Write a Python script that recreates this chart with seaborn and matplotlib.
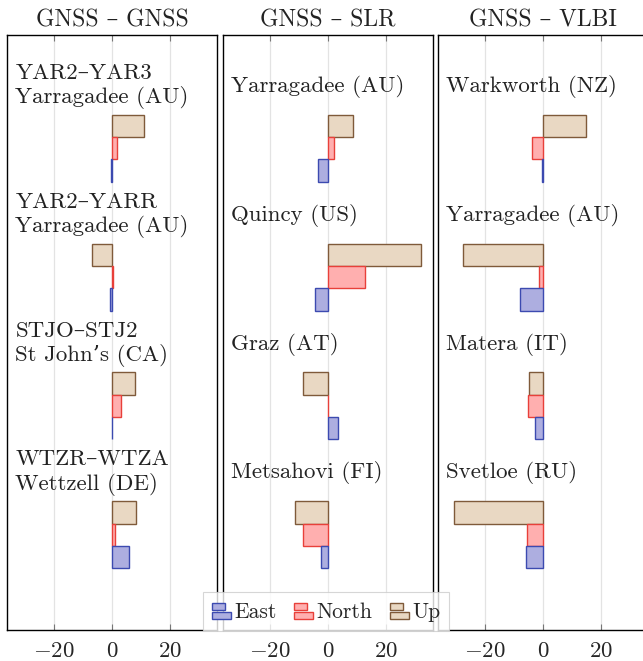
import numpy as np
import pandas as pd
import matplotlib
matplotlib.use("Agg")
import matplotlib.pyplot as plt
from matplotlib.patches import Rectangle
from matplotlib.legend_handler import HandlerBase
import seaborn as sns

# Data (mm)
panel_titles = ['GNSS – GNSS', 'GNSS – SLR', 'GNSS – VLBI']

gnss_labels = ['YAR2–YAR3\nYarragadee (AU)', 'YAR2–YARR\nYarragadee (AU)',
               'STJO–STJ2\nSt John’s (CA)', 'WTZR–WTZA\nWettzell (DE)']
gnss_east = [-0.5, -0.7, 0.1, 5.9]
gnss_north = [1.8, 0.5, 3.0, 0.9]
gnss_up = [11.0, -6.8, 7.8, 8.3]

slr_labels = ['Yarragadee (AU)', 'Quincy (US)', 'Graz (AT)', 'Metsahovi (FI)']
slr_east = [-3.4, -4.5, 3.4, -2.4]
slr_north = [2.1, 12.7, 0.1, -8.6]
slr_up = [8.7, 32.0, -8.7, -11.2]

vlbi_labels = ['Warkworth (NZ)', 'Yarragadee (AU)', 'Matera (IT)', 'Svetloe (RU)']
vlbi_east = [-0.2, -7.9, -2.9, -5.8]
vlbi_north = [-3.8, -1.4, -5.3, -5.6]
vlbi_up = [14.9, -27.4, -4.8, -30.6]

components = ['Up', 'North', 'East']
fill_colors = {'East': '#adaee0', 'North': '#ffafaf', 'Up': '#e9d8c3'}
edge_colors = {'East': '#3c4ab0', 'North': '#e8403a', 'Up': '#7f5a3a'}

sns.set_style('white')
plt.rcParams['font.family'] = ['cmr10', 'DejaVu Serif']
plt.rcParams['mathtext.fontset'] = 'cm'
plt.rcParams['axes.formatter.use_mathtext'] = True
FS = 16.5


def make_frame(labels, east, north, up):
    rows = []
    for i, lab in enumerate(labels):
        rows.append({'station': lab, 'component': 'East', 'value': east[i]})
        rows.append({'station': lab, 'component': 'North', 'value': north[i]})
        rows.append({'station': lab, 'component': 'Up', 'value': up[i]})
    return pd.DataFrame(rows)


frames = [make_frame(gnss_labels, gnss_east, gnss_north, gnss_up),
          make_frame(slr_labels, slr_east, slr_north, slr_up),
          make_frame(vlbi_labels, vlbi_east, vlbi_north, vlbi_up)]
label_sets = [gnss_labels, slr_labels, vlbi_labels]

fig = plt.figure(figsize=(6.43, 6.61), dpi=100)
W, H = 643, 661
lefts = [7, 223, 438]

for k in range(3):
    ax = fig.add_axes([lefts[k] / W, 1 - 630 / H, 210 / W, 595 / H])
    df = frames[k]
    sns.barplot(data=df, y='station', x='value', hue='component',
                hue_order=components, order=label_sets[k], orient='h',
                palette=fill_colors, saturation=1, width=0.52, errorbar=None,
                legend=False, ax=ax, zorder=3)
    for cont, comp in zip(ax.containers, components):
        for bar in cont:
            bar.set_edgecolor(edge_colors[comp])
            bar.set_linewidth(1.0)

    # station labels above each group
    for i, lab in enumerate(label_sets[k]):
        ax.text(0.04, i - 0.48, lab, transform=ax.get_yaxis_transform(),
                ha='left', va='center', fontsize=FS, color='#222222',
                linespacing=1.2)

    ax.set_xlim(-36, 36)
    ax.set_ylim(3.74, -0.88)
    ax.set_xticks([-20, 0, 20])
    ax.set_yticks([])
    ax.set_xlabel('')
    ax.set_ylabel('')
    ax.grid(axis='x', color='#e3e3e3', linewidth=0.9, zorder=0)
    ax.set_axisbelow(True)
    ax.tick_params(axis='x', direction='in', top=True, bottom=True,
                   length=4, width=0.8, color='#777777',
                   labelsize=FS, pad=8)
    for sp in ax.spines.values():
        sp.set_color('black')
        sp.set_linewidth(1.0)
    ax.set_title(panel_titles[k], fontsize=17, pad=6, color='#222222')


class TwoBarHandler(HandlerBase):
    def create_artists(self, legend, orig_handle, xdescent, ydescent,
                       width, height, fontsize, trans):
        h = height * 0.36
        gap = height * 0.1
        y0 = -ydescent + (height - (2 * h + gap)) / 2
        fc = orig_handle.get_facecolor()
        ec = orig_handle.get_edgecolor()
        top = Rectangle((-xdescent, y0 + h + gap), width * 0.7, h,
                        facecolor=fc, edgecolor=ec, linewidth=1.0,
                        transform=trans)
        bottom = Rectangle((-xdescent, y0), width, h,
                           facecolor=fc, edgecolor=ec, linewidth=1.0,
                           transform=trans)
        return [top, bottom]


handles = [Rectangle((0, 0), 1, 1, facecolor=fill_colors[c], edgecolor=edge_colors[c])
           for c in ['East', 'North', 'Up']]
leg = fig.legend(handles, ['East', 'North', 'Up'], ncol=3,
                 loc='lower left', bbox_to_anchor=(203 / W, 1 - 631 / H),
                 handler_map={Rectangle: TwoBarHandler()},
                 fontsize=15.5, frameon=True, fancybox=False,
                 framealpha=0.8, edgecolor='#cccccc',
                 handlelength=0.9, handleheight=1.05, handletextpad=0.15,
                 columnspacing=0.8, borderpad=0.4, borderaxespad=0)
leg.get_frame().set_linewidth(0.8)

fig.savefig('out.png', dpi=100)
